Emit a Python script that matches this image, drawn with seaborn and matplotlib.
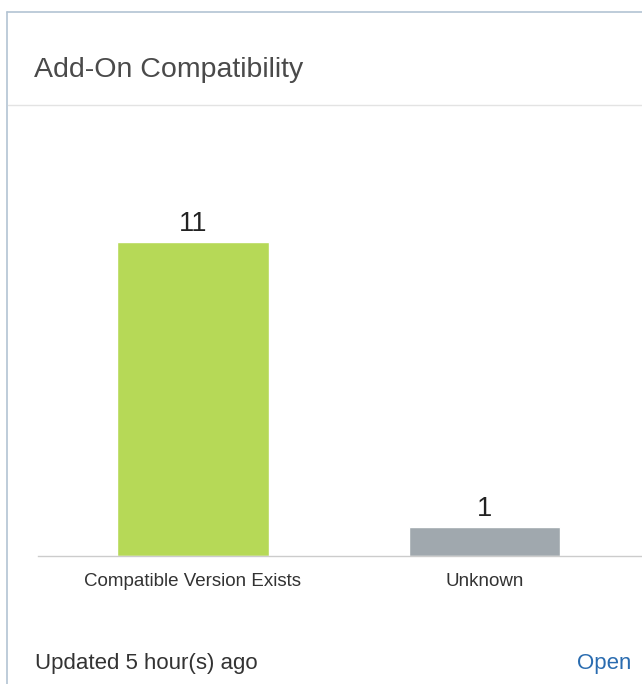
import matplotlib
matplotlib.use("Agg")
import matplotlib.pyplot as plt
import seaborn as sns
import pandas as pd
from matplotlib.lines import Line2D

# data
categories = ["Compatible Version Exists", "Unknown"]
counts = [11, 1]
bar_colors = ["#b6d957", "#a0a8ae"]

title = "Add-On Compatibility"
footer = "Updated 5 hour(s) ago"
link = "Open"

sns.set_theme(style="white")
plt.rcParams['font.family'] = ['Liberation Sans', 'DejaVu Sans']

df = pd.DataFrame({"category": categories, "count": counts})

W, H = 642, 684
fig = plt.figure(figsize=(W / 100, H / 100), dpi=100)
fig.patch.set_facecolor("white")

# card frame (left + top border), header divider
fig.add_artist(Line2D([7 / W, 7 / W], [0, 1 - 12 / H], color="#b3c3d3", lw=1.2))
fig.add_artist(Line2D([7 / W, 1], [1 - 12 / H, 1 - 12 / H], color="#b3c3d3", lw=1.2))
fig.add_artist(Line2D([8 / W, 1], [1 - 105 / H, 1 - 105 / H], color="#e3e3e3", lw=1))

fig.text(34 / W, 1 - 70 / H, title, fontsize=20.5, color="#4a4a4a", va="center", ha="left")
fig.text(35 / W, 1 - 664 / H, footer, fontsize=16, color="#333333", va="center", ha="left")
fig.text(631 / W, 1 - 664 / H, link, fontsize=16, color="#2a6cb0", va="center", ha="right")

ax = fig.add_axes([38 / W, 1 - 556 / H, 1 - 38 / W, 428 / H])
sns.barplot(data=df, x="category", y="count", hue="category", palette=bar_colors,
            width=0.52, legend=False, ax=ax, saturation=1)

for cont in ax.containers:
    ax.bar_label(cont, fontsize=19.5, color="#222222", padding=4)

ax.set_xlim(-0.53, 1.54)
ax.set_ylim(0, 15)
ax.set_xlabel("")
ax.set_ylabel("")
ax.set_yticks([])
ax.tick_params(axis="x", length=0, labelsize=13.5, labelcolor="#333333", pad=12)
for s in ["top", "right", "left"]:
    ax.spines[s].set_visible(False)
ax.spines["bottom"].set_color("#cccccc")
ax.spines["bottom"].set_linewidth(1)
ax.set_facecolor("none")

fig.savefig("out.png", dpi=100)
